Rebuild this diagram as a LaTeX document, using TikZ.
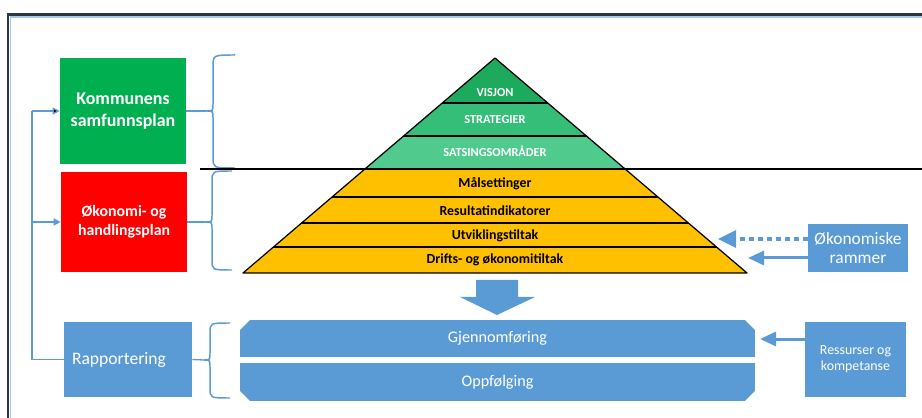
\documentclass[tikz,border=0pt]{standalone}
\usepackage{fontspec}
\setmainfont{Carlito}
\usepackage{tikz}
\usetikzlibrary{arrows.meta}
\usetikzlibrary{shapes.misc}
\definecolor{plangreen}{HTML}{00B050}
\definecolor{planred}{HTML}{FF0000}
\definecolor{planblue}{HTML}{5B9BD5}
\definecolor{goldlayer}{HTML}{FFC000}
\definecolor{visgreen}{HTML}{1EAA5C}
\definecolor{stratgreen}{HTML}{34BE78}
\definecolor{satsgreen}{HTML}{50CB8D}
\definecolor{framedark}{HTML}{2B3646}
\definecolor{framelight}{HTML}{A9C8EE}
\tikzset{planbox/.style={inner sep=0, align=center, text=white, font=\bfseries\fontsize{10.2}{12.5}\selectfont}}
\tikzset{bluebox/.style={fill=planblue, inner sep=0, align=center, text=white}}
\tikzset{stepbar/.style={chamfered rectangle, chamfered rectangle xsep=0.1cm, chamfered rectangle ysep=0.1cm, fill=planblue, inner sep=0, minimum width=10.3cm, text=white, font=\fontsize{9.2}{11}\selectfont}}
\tikzset{toplayer/.style={text=white, inner sep=0, font=\bfseries\fontsize{7}{8}\selectfont}}
\tikzset{lowlayer/.style={text=black, inner sep=0, font=\bfseries\fontsize{7.9}{9}\selectfont}}
\tikzset{curly/.style={draw=planblue, line width=0.85pt}}
\tikzset{link/.style={draw=planblue, line width=0.75pt}}
\tikzset{fatarrow/.style={draw=planblue, line width=0.06cm, -{Triangle[length=0.32cm, width=0.28cm]}}}

\begin{document}
\begin{tikzpicture}[x=0.02cm, y=-0.02cm]
  \useasboundingbox (0,0) rectangle (922,418);
  \draw[framelight, line width=0.6pt] (922,17) -- (10.5,17) -- (10.5,418);
  \draw[framedark, line width=1.2pt] (922,14.5) -- (8,14.5) -- (8,418);

  \node[planbox, fill=plangreen, minimum width=2.52cm, minimum height=2.12cm] at (123,111) (komm) {Kommunens\\samfunnsplan};
  \node[planbox, fill=planred, minimum width=2.52cm, minimum height=2cm, font=\bfseries\fontsize{9}{10.5}\selectfont] at (124,222) (okplan) {Økonomi- og\\handlingsplan};
  \node[bluebox, minimum width=2.56cm, minimum height=1.5cm, text width=2.24cm, align=left, font=\fontsize{10}{12}\selectfont] at (128,359.5) (rapp) {Rapportering};

  \coordinate (bus) at (32,111);
  \draw[link] (rapp.west) -| (bus) edge[-{Triangle[length=4pt, width=4pt]}] (komm.west);
  \draw[link, -{Triangle[length=4pt, width=4pt]}] (okplan.west -| bus) -- (okplan.west);

  \draw[curly] (235,55) .. controls (213,55) .. (213,67) -- (213,104) .. controls (213,111) .. (206,111) .. controls (213,111) .. (213,118) -- (213,157) .. controls (213,168) .. (235,168);
  \draw[curly] (232,171) .. controls (212,171) .. (212,182) -- (212,215) .. controls (212,222) .. (205,222) .. controls (212,222) .. (212,229) -- (212,260) .. controls (212,270) .. (232,270);
  \draw[curly] (230,323) .. controls (210,323) .. (210,333) -- (210,353) .. controls (210,360) .. (204,360) .. controls (210,360) .. (210,367) -- (210,388) .. controls (210,398) .. (230,398);
  \coordinate (tip1) at (206,111);
  \coordinate (tip2) at (205,222);
  \coordinate (tip3) at (204,360);
  \draw[link] (komm.east) -- (tip1);
  \draw[link] (okplan.east) -- (tip2);
  \draw[link] (rapp.east) -- (tip3);

  \draw[black, line width=0.6pt] (200,169) -- (922,169);

  \coordinate (apex) at (495,58);
  \coordinate (bl) at (243,273);
  \coordinate (br) at (747,273);
  \begin{scope}
    \clip (apex) -- (bl) -- (br) -- cycle;
    \fill[visgreen] (243,58) rectangle (747,103);
    \fill[stratgreen] (243,103) rectangle (747,136);
    \fill[satsgreen] (243,136) rectangle (747,169);
    \fill[goldlayer] (243,169) rectangle (747,273);
    \foreach \y in {103,136,169,197,223,247}
      \draw[line width=0.7pt] (243,\y) -- (747,\y);
  \end{scope}
  \draw[line width=0.7pt, line join=round] (apex) -- (bl) -- (br) -- cycle;

  \node[toplayer] at (495,93) (visjon) {VISJON};
  \node[toplayer] at (495,120) (strat) {STRATEGIER};
  \node[toplayer] at (495,151) (sats) {SATSINGSOMRÅDER};
  \node[lowlayer] at (495,184) (maal) {Målsettinger};
  \node[lowlayer] at (495,211) (resind) {Resultatindikatorer};
  \node[lowlayer] at (495,236) (utvikl) {Utviklingstiltak};
  \node[lowlayer] at (495,260) (drift) {Drifts- og økonomitiltak};

  \node[bluebox, minimum width=2cm, minimum height=0.96cm, font=\fontsize{9.9}{10.8}\selectfont] at (858,248) (ramme) {Økonomiske\\rammer};
  \coordinate (dottip) at (718,239);
  \coordinate (soltip) at (748,258);
  \draw[planblue, line width=0.08cm, dash pattern=on 0.1cm off 0.08cm] (ramme.west |- dottip) -- (730,239);
  \fill[planblue] (dottip) -- (736,230) -- (736,248) -- cycle;
  \draw[fatarrow] (ramme.west |- soltip) -- (soltip);

  \fill[planblue] (476,280) -- (518,280) -- (518,297) -- (535,297) -- (497,315) -- (460,297) -- (476,297) -- cycle;

  \node[stepbar, chamfered rectangle corners={north west, north east}, minimum height=0.74cm] at (497.5,338.5) (gjennom) {Gjennomføring};
  \node[stepbar, chamfered rectangle corners={south west, south east}, minimum height=0.76cm] at (497.5,382) (oppf) {Oppfølging};

  \node[bluebox, minimum width=2.02cm, minimum height=1.5cm, font=\fontsize{7.9}{9}\selectfont] at (855.5,359.5) (ressurs) {Ressurser og\\kompetanse};
  \coordinate (restip) at (760,339);
  \draw[fatarrow] (ressurs.west |- restip) -- (restip);
\end{tikzpicture}
\end{document}
